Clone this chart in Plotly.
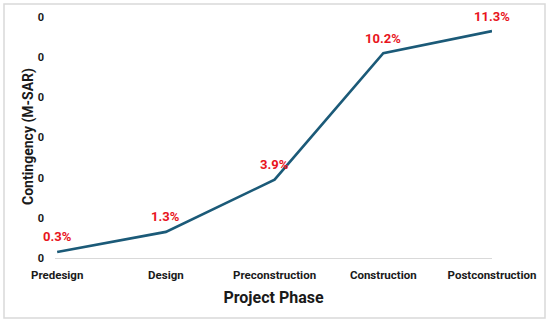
import plotly.graph_objects as go

phases = ["Predesign", "Design", "Preconstruction", "Construction", "Postconstruction"]
contingency = [0.003, 0.013, 0.039, 0.102, 0.113]
labels = ["0.3%", "1.3%", "3.9%", "10.2%", "11.3%"]
y_ticks = [0, 0.02, 0.04, 0.06, 0.08, 0.10, 0.12]

W, H = 550, 324
ml, mr, mt, mb = 55, 58, 17, 66
pw, ph = W - ml - mr, H - mt - mb
FONT = "Roboto"

def px_x(p):
    return (p - ml) / pw

def px_y(p):
    return (H - mb - p) / ph

xs = list(range(len(phases)))

fig = go.Figure()
fig.add_trace(go.Scatter(
    x=xs, y=contingency, mode="lines",
    line=dict(color="#1b5a78", width=2.6),
    cliponaxis=False, hoverinfo="skip",
))

for xv, yv, t in zip(xs, contingency, labels):
    fig.add_annotation(x=xv, y=yv, xref="x", yref="y", text=t, showarrow=False,
                       yshift=15, font=dict(family=FONT, size=13, color="#e8141c", weight="bold"))

fig.add_annotation(x=px_x(28), y=px_y(137), xref="paper", yref="paper",
                   xanchor="center", yanchor="middle",
                   text="Contingency (M-SAR)", textangle=-90, showarrow=False,
                   font=dict(family=FONT, size=14, weight="bold", color="#1a1a1a"))

fig.add_shape(type="rect", xref="paper", yref="paper",
              x0=px_x(4), x1=px_x(545), y0=px_y(318), y1=px_y(4),
              line=dict(color="#d9d9d9", width=1.5), layer="below")

fig.update_layout(
    width=W, height=H,
    margin=dict(l=ml, r=mr, t=mt, b=mb, autoexpand=False),
    paper_bgcolor="white", plot_bgcolor="white",
    showlegend=False,
    font=dict(family=FONT, color="#1a1a1a"),
    xaxis=dict(
        range=[-0.02, 4.0], tickvals=xs, ticktext=phases, automargin=False,
        showgrid=False, zeroline=False, showline=True, linecolor="#d9d9d9", linewidth=1.2,
        ticks="", tickfont=dict(family=FONT, size=11.5, weight="bold", color="#1a1a1a"),
        ticklabelstandoff=6,
        title=dict(text="Project Phase", font=dict(family=FONT, size=16, weight="bold", color="#1a1a1a"), standoff=10),
    ),
    yaxis=dict(
        range=[0, 0.12], tickvals=y_ticks, tickformat=".0f", automargin=False,
        showgrid=False, zeroline=False, showline=False, ticks="",
        tickfont=dict(family=FONT, size=11, weight="bold", color="#1a1a1a"),
        ticklabelstandoff=10,
    ),
)

fig.write_html("out.html", config={"displayModeBar": False},
               post_script="document.body.style.margin='0';document.body.style.overflow='hidden';")
